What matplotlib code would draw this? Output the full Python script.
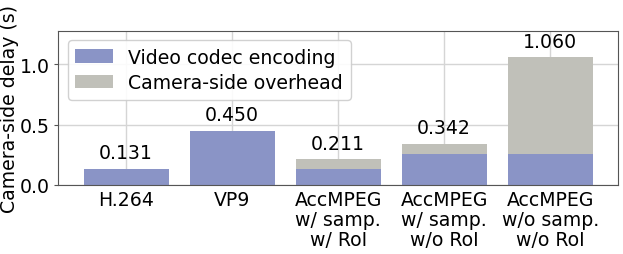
import numpy as np
import matplotlib
matplotlib.use('Agg')
from matplotlib import pyplot as plt

categories = ['H.264', 'VP9', 'AccMPEG\nw/ samp.\nw/ RoI',
              'AccMPEG\nw/ samp.\nw/o RoI', 'AccMPEG\nw/o samp.\nw/o RoI']
encoding = [0.131, 0.450, 0.131, 0.260, 0.260]
totals = [0.131, 0.450, 0.211, 0.342, 1.060]
overhead = [t - e for t, e in zip(totals, encoding)]

plt.rcParams['font.size'] = 13.6
fig, ax = plt.subplots(figsize=(6.23, 2.55), dpi=100)
x = np.arange(len(categories))
ax.bar(x, encoding, 0.8, color='#8a94c6', label='Video codec encoding', zorder=2)
ax.bar(x, overhead, 0.8, bottom=encoding, color='#c0c0b9',
       label='Camera-side overhead', zorder=2)
for xi, t in zip(x, totals):
    ax.text(xi, t + 0.055, '%.3f' % t, ha='center', va='bottom')

ax.set_xticks(x)
ax.set_xticklabels(categories, linespacing=1.05)
ax.set_ylim(0, 1.28)
ax.set_xlim(-0.64, 4.64)
ax.set_yticks([0.0, 0.5, 1.0])
ax.set_ylabel('Camera-side delay (s)')
ax.yaxis.set_label_coords(-0.070, 0.5)
ax.grid(True, color='#d5d5d5', lw=1, zorder=0)
ax.tick_params(axis='y', length=3, pad=3, color='#555555')
ax.tick_params(axis='x', length=0, pad=4)
for s in ax.spines.values():
    s.set_color('#555555')
ax.legend(loc='upper left', handlelength=2.0, framealpha=0.9,
          borderpad=0.4, labelspacing=0.35)
fig.subplots_adjust(left=0.0936, right=0.992, top=0.876, bottom=0.271)
fig.savefig('out.png')
